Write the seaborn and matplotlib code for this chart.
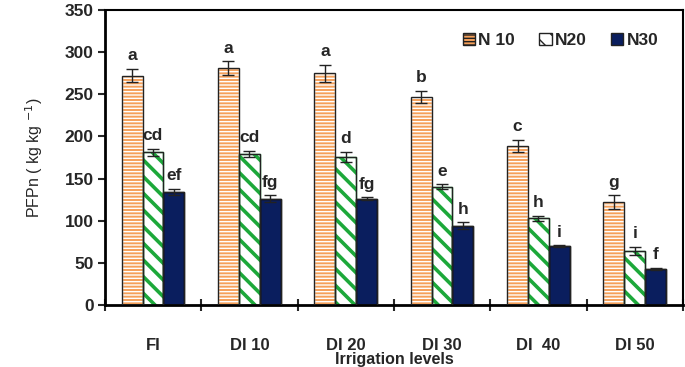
import matplotlib
matplotlib.use('Agg')
import matplotlib.pyplot as plt
import seaborn as sns
import pandas as pd

levels = ['FI', 'DI 10', 'DI 20', 'DI 30', 'DI  40', 'DI 50']
series = ['N 10', 'N20', 'N30']

n10 = [272, 281, 275, 247, 189, 122]
n20 = [181, 179, 176, 140, 103, 64]
n30 = [134, 126, 126, 94, 70, 43]

n10_err = [8, 8, 10, 7, 7, 8]
n20_err = [4, 4, 6, 3, 3, 5]
n30_err = [4, 4, 2, 4, 1, 1]

n10_lab = ['a', 'a', 'a', 'b', 'c', 'g']
n20_lab = ['cd', 'cd', 'd', 'e', 'h', 'i']
n30_lab = ['ef', 'fg', 'fg', 'h', 'i', 'f']

df = pd.DataFrame({
    'level': levels * 3,
    'N': [s for s in series for _ in levels],
    'PFPn': n10 + n20 + n30,
})
errs = [n10_err, n20_err, n30_err]
labs = [n10_lab, n20_lab, n30_lab]

sns.set_style('white')
plt.rcParams['font.family'] = ['Liberation Sans', 'DejaVu Sans']

fig = plt.figure(figsize=(6.85, 3.67), dpi=100)
ax = fig.add_axes([0.153, 0.169, 0.844, 0.804])

sns.barplot(data=df, x='level', y='PFPn', hue='N', order=levels, hue_order=series,
            width=0.65, palette=['#F5A05A', 'white', '#0A1E5E'], ax=ax,
            saturation=1, errorbar=None, legend=False)

# styling per series: (face, hatch, hatch colour, hatch width)
styles = [('#F5A05A', '-----', 'white', 1.0),
          ('white', '\\\\', '#1DA83A', 2.6),
          ('#0A1E5E', '', 'black', 1.0)]

handles = []
for cont, (fc, hatch, hc, hw), err, lab, name in zip(ax.containers, styles, errs, labs, series):
    for bar, e, t in zip(cont.patches, err, lab):
        bar.set_facecolor(fc)
        bar.set_hatch(hatch)
        if hasattr(bar, 'set_hatchcolor'):
            bar.set_hatchcolor(hc)
            bar.set_edgecolor('#222222')
        else:
            bar.set_edgecolor(hc)
        if hasattr(bar, 'set_hatch_linewidth'):
            bar.set_hatch_linewidth(hw)
        bar.set_linewidth(1.0)
        # outline on top
        ax.add_patch(plt.Rectangle(bar.get_xy(), bar.get_width(), bar.get_height(),
                                   fill=False, edgecolor='#222222', lw=1.0, zorder=3))
        xc = bar.get_x() + bar.get_width() / 2
        h = bar.get_height()
        ax.errorbar(xc, h, yerr=e, fmt='none', ecolor='#222222', elinewidth=1,
                    capsize=4, capthick=1, zorder=4)
        ax.annotate(t, (xc, h + e), xytext=(0, 4), textcoords='offset points',
                    ha='center', va='bottom', fontsize=12.5, fontweight='bold')
    h = plt.Rectangle((0, 0), 1, 1, facecolor=fc, hatch=hatch, edgecolor='#222222', lw=1)
    if hasattr(h, 'set_hatchcolor'):
        h.set_hatchcolor(hc)
    handles.append(h)

ax.legend(handles, series, loc='upper right', bbox_to_anchor=(0.985, 0.975), ncol=3,
          frameon=False, handlelength=0.7, handleheight=0.7, handletextpad=0.2,
          columnspacing=1.4, prop={'weight': 'bold', 'size': 12.5})

ax.set_ylim(0, 350)
ax.set_yticks(range(0, 351, 50))
ax.set_xlim(-0.5, len(levels) - 0.5)
ax.set_xticks(range(len(levels)))
ax.set_xticklabels(levels)
ax.set_xticks([i - 0.5 for i in range(len(levels) + 1)], minor=True)
ax.tick_params(axis='x', which='major', length=0, pad=24, labelsize=12)
ax.tick_params(axis='x', which='minor', direction='inout', length=9, width=1.5, bottom=True)
ax.tick_params(axis='y', direction='out', length=5, width=1.5, left=True, labelsize=12.5, pad=3)
for t in ax.get_xticklabels() + ax.get_yticklabels():
    t.set_fontweight('bold')

for s in ax.spines.values():
    s.set_color('black')
    s.set_linewidth(1.5)
ax.spines['left'].set_linewidth(2)
ax.spines['bottom'].set_linewidth(2)

ax.set_xlabel('Irrigation levels', fontsize=11.5, fontweight='bold', labelpad=-1)
ax.set_ylabel('PFPn ( kg kg $^{-1}$)', fontsize=11.5, labelpad=14)

fig.savefig('out.png', dpi=100)
